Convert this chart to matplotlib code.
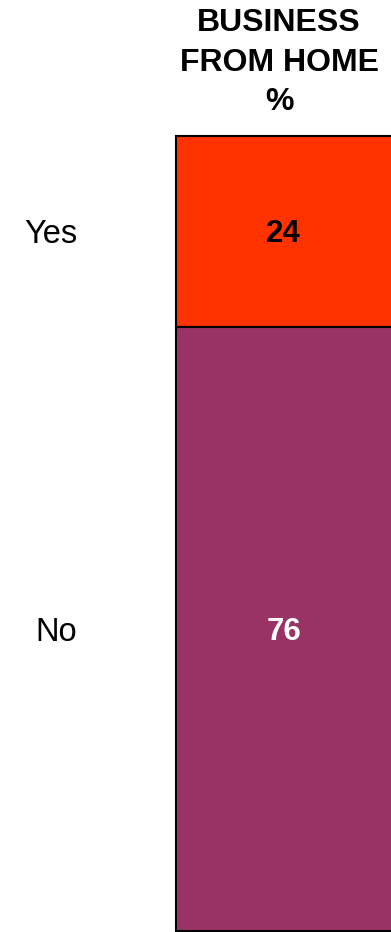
import matplotlib
matplotlib.use("Agg")
import matplotlib.pyplot as plt

# data
categories = ["Yes", "No"]
values = [24, 76]
colors = ["#FF3300", "#993366"]
label_colors = ["black", "white"]
title = "BUSINESS\nFROM HOME\n%"

plt.rcParams['font.family'] = ['Liberation Sans', 'DejaVu Sans']

fig = plt.figure(figsize=(3.91, 9.32), dpi=100)
ax = fig.add_axes([176 / 391, 1 / 932, 1 - 176 / 391, (931 - 136) / 932])

# stacked from the top: Yes on top, No below
bottom = 100
tick_pos = []
for cat, val, col, lc in zip(categories, values, colors, label_colors):
    bottom -= val
    ax.bar(-0.5, val, width=1.1, bottom=bottom, align='edge', color=col,
           edgecolor='black', linewidth=1.5, clip_on=False)
    mid = bottom + val / 2
    tick_pos.append(mid)
    ax.annotate(str(val), (0, mid), xytext=(0, -2), textcoords='offset points',
                ha='center', va='center', fontsize=22.5,
                fontweight='bold', color=lc)

ax.set_xlim(-0.5, 0.5)
ax.set_ylim(0, 100)
ax.set_xticks([])
ax.set_yticks(tick_pos)
ax.set_yticklabels(categories, fontsize=23.5)
ax.tick_params(axis='y', length=0, pad=71)
for s in ax.spines.values():
    s.set_visible(False)

fig.text(279 / 391, 1 - 8 / 932, title, ha='center', va='top', fontsize=23,
         fontweight='bold', linespacing=1.42)

fig.savefig("out.png", dpi=100)
